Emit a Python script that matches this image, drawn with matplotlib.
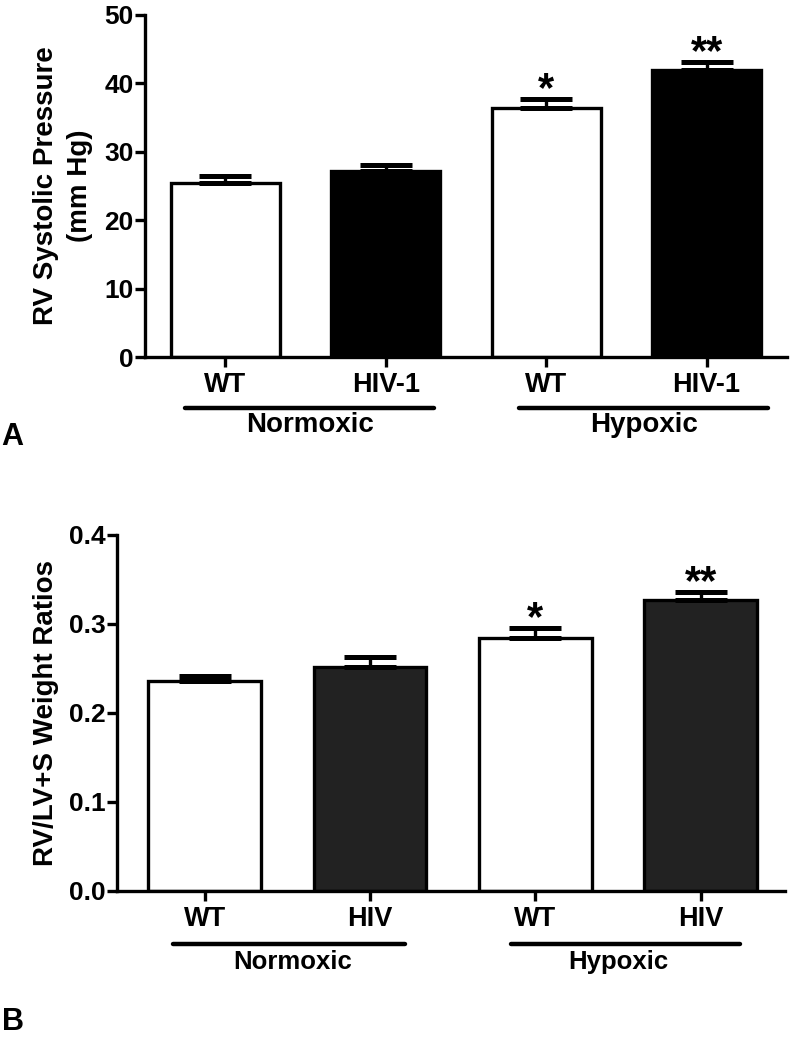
import matplotlib
matplotlib.use("Agg")
import matplotlib.pyplot as plt
import numpy as np

plt.rcParams['font.family'] = ['Liberation Sans', 'DejaVu Sans']
plt.rcParams['font.weight'] = 'bold'

# panel A data: RV systolic pressure (mm Hg)
labels_a = ['WT', 'HIV-1', 'WT', 'HIV-1']
rvsp_mean = [25.5, 27.2, 36.4, 42.0]
rvsp_sem = [1.0, 0.8, 1.3, 1.1]
rvsp_stars = ['', '', '*', '**']
fills_a = ['white', 'black', 'white', 'black']

# panel B data: RV/LV+S weight ratios
labels_b = ['WT', 'HIV', 'WT', 'HIV']
ratio_mean = [0.236, 0.252, 0.284, 0.327]
ratio_sem = [0.005, 0.011, 0.011, 0.009]
ratio_stars = ['', '', '*', '**']
fills_b = ['white', '#222222', 'white', '#222222']

groups = ['Normoxic', 'Hypoxic']

fig = plt.figure(figsize=(7.9, 10.4), dpi=100)
ax_a = fig.add_axes([0.1835, 0.6567, 0.8125, 0.329])
ax_b = fig.add_axes([0.148, 0.1433, 0.8457, 0.3423])

lw = 2.4


def draw_panel(ax, means, sems, fills, labels, stars, xlim, ylim, yticks, ylab, ylab_x,
               group_spans, group_centers, group_fs):
    x = np.arange(len(means))
    ax.bar(x, means, width=0.68, color=fills, edgecolor='black', linewidth=lw, zorder=2)
    ax.errorbar(x, means, yerr=[np.zeros(len(sems)), sems], fmt='none', ecolor='black',
                elinewidth=lw, capsize=19, capthick=3.6, zorder=3)
    # significance stars above the caps
    for xi, m, s, st in zip(x, means, sems, stars):
        if st:
            ax.annotate(st, xy=(xi, m + s), xytext=(0, -1.5), textcoords='offset points',
                        ha='center', va='baseline', fontsize=30, fontweight='bold')
    ax.set_xlim(*xlim)
    ax.set_ylim(*ylim)
    ax.set_yticks(yticks)
    ax.set_xticks(x)
    ax.set_xticklabels(labels, fontsize=19.5, fontweight='bold')
    ax.tick_params(axis='y', labelsize=19, width=lw, length=7, pad=1)
    ax.tick_params(axis='x', width=lw, length=7, pad=4)
    for sp in ['top', 'right']:
        ax.spines[sp].set_visible(False)
    for sp in ['left', 'bottom']:
        ax.spines[sp].set_linewidth(lw)
    ax.set_ylabel(ylab, fontsize=20, fontweight='bold', linespacing=1.4)
    ax.yaxis.set_label_coords(ylab_x, 0.5)

    # group bars + names under the x axis
    trans = ax.get_xaxis_transform()
    for (x0, x1), xc, name in zip(group_spans, group_centers, groups):
        ax.plot([x0, x1], [-0.148, -0.148], transform=trans, color='black', lw=3.2,
                solid_capstyle='round', clip_on=False)
        ax.text(xc, -0.2, name, transform=trans, ha='center', va='center',
                fontsize=group_fs, fontweight='bold')


draw_panel(ax_a, rvsp_mean, rvsp_sem, fills_a, labels_a, rvsp_stars,
           (-0.5, 3.5), (0, 50), [0, 10, 20, 30, 40, 50],
           'RV Systolic Pressure\n(mm Hg)', -0.081,
           [(-0.25, 1.30), (1.83, 3.38)], [0.53, 2.61], 20)
ax_a.yaxis.set_major_formatter(matplotlib.ticker.FormatStrFormatter('%d'))

draw_panel(ax_b, ratio_mean, ratio_sem, fills_b, labels_b, ratio_stars,
           (-0.53, 3.51), (0, 0.4), [0.0, 0.1, 0.2, 0.3, 0.4],
           'RV/LV+S Weight Ratios', -0.086,
           [(-0.19, 1.21), (1.85, 3.24)], [0.53, 2.50], 18.5)
ax_b.yaxis.set_major_formatter(matplotlib.ticker.FormatStrFormatter('%.1f'))

fig.text(0.002, 0.58, 'A', fontsize=22, fontweight='bold', ha='left', va='center')
fig.text(0.002, 0.017, 'B', fontsize=22, fontweight='bold', ha='left', va='center')

fig.savefig('out.png', dpi=100)
